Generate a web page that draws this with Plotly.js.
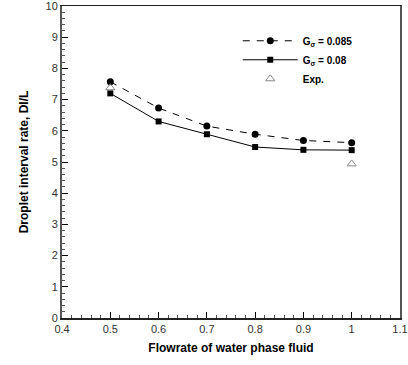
<!DOCTYPE html>
<html>
<head>
<meta charset="utf-8">
<script src="https://cdn.plot.ly/plotly-3.0.1.min.js"></script>
<style>html,body{margin:0;padding:0;background:#fff;}#chart{width:408px;height:365px;}</style>
</head>
<body>
<div id="chart"></div>
<script>
var flowrate = [0.5, 0.6, 0.7, 0.8, 0.9, 1.0];
var g085 = [7.57, 6.73, 6.15, 5.89, 5.69, 5.62];
var g08 = [7.20, 6.30, 5.89, 5.48, 5.39, 5.38];
var expX = [0.5, 1.0];
var expY = [7.38, 4.94];
var xTicks = [0.4, 0.5, 0.6, 0.7, 0.8, 0.9, 1.0, 1.1];
var xTickLabels = ['0.4', '0.5', '0.6', '0.7', '0.8', '0.9', '1', '1.1'];
var yTicks = [0, 1, 2, 3, 4, 5, 6, 7, 8, 9, 10];

var traces = [
  {x: flowrate, y: g085, name: 'G<sub>σ</sub> = 0.085', type: 'scatter', mode: 'lines+markers',
   line: {color: '#000', width: 1, dash: '7px,7px'}, marker: {symbol: 'circle', size: 7, color: '#000'}},
  {x: flowrate, y: g08, name: 'G<sub>σ</sub> = 0.08', type: 'scatter', mode: 'lines+markers',
   line: {color: '#000', width: 1}, marker: {symbol: 'square', size: 6, color: '#000'}},
  {x: expX, y: expY, name: 'Exp.', type: 'scatter', mode: 'markers',
   marker: {symbol: 'triangle-up-open', size: 8, color: '#888', line: {width: 1, color: '#888'}}}
];

var layout = {
  width: 408, height: 365,
  margin: {l: 62, r: 8, t: 6, b: 47},
  paper_bgcolor: '#fff', plot_bgcolor: '#fff',
  font: {family: 'Liberation Sans, Arial, sans-serif', size: 11, color: '#333'},
  showlegend: true,
  legend: {x: 0.52, y: 0.935, xanchor: 'left', yanchor: 'top', bgcolor: 'rgba(0,0,0,0)',
           font: {family: 'Liberation Sans, Arial, sans-serif', size: 10, color: '#000', weight: 'bold'},
           tracegroupgap: 0, itemwidth: 55},
  xaxis: {range: [0.3999, 1.1001], tickvals: xTicks, ticktext: xTickLabels, ticks: 'inside', ticklen: 6,
          tickcolor: '#000', showgrid: false, zeroline: false, showline: true, mirror: true,
          linecolor: '#222', linewidth: 1.5, ticklabeloverflow: 'allow',
          minor: {dtick: 0.02, ticks: 'inside', ticklen: 3, tickcolor: '#555', showgrid: false},
          title: {text: 'Flowrate of water phase fluid', standoff: 10,
                  font: {family: 'Liberation Sans, Arial, sans-serif', size: 12, color: '#000', weight: 'bold'}}},
  yaxis: {range: [-0.0005, 10.0005], tickvals: yTicks, ticks: 'inside', ticklen: 6, tickcolor: '#000',
          showgrid: false, zeroline: false, showline: true, mirror: true,
          linecolor: '#555', linewidth: 2, ticklabeloverflow: 'allow',
          minor: {dtick: 0.2, ticks: 'inside', ticklen: 3, tickcolor: '#555', showgrid: false},
          title: {text: 'Droplet interval rate, DI/L', standoff: 14,
                  font: {family: 'Liberation Sans, Arial, sans-serif', size: 12, color: '#000', weight: 'bold'}}}
};

Plotly.newPlot('chart', traces, layout, {displayModeBar: false, staticPlot: true});
</script>
</body>
</html>
